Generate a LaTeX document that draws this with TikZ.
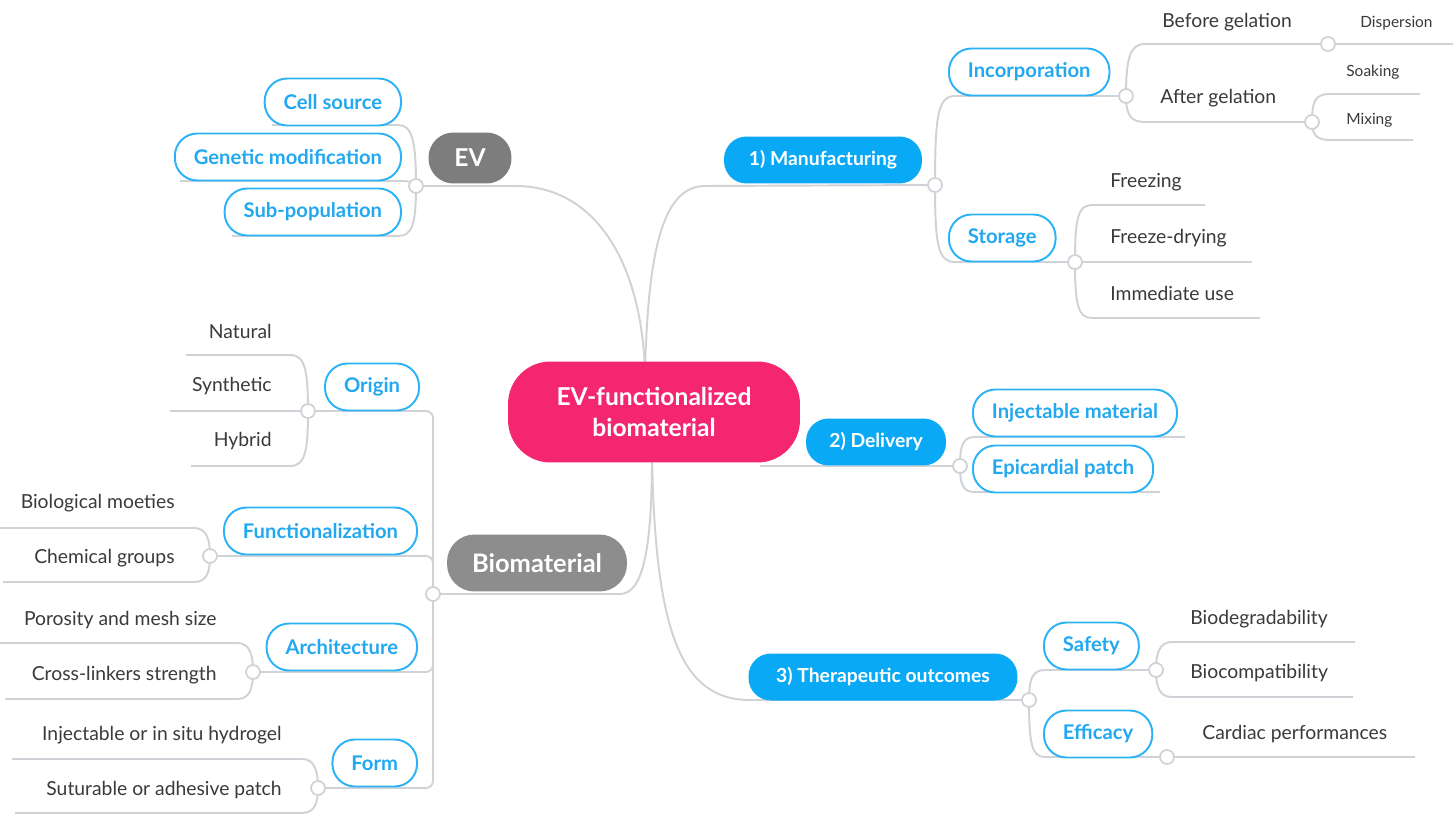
\documentclass[tikz,border=0pt]{standalone}
\usepackage{fontspec}
\setmainfont{Lato}
\usetikzlibrary{backgrounds}
\definecolor{linegray}{HTML}{CFD3D7}
\definecolor{bluefill}{HTML}{0AA9F6}
\definecolor{blueline}{HTML}{2BB2F7}
\definecolor{bluetext}{HTML}{22A8F0}
\definecolor{rootpink}{HTML}{F3266F}
\definecolor{evgray}{HTML}{7D7D7D}
\definecolor{biogray}{HTML}{8D8D8D}
\definecolor{leaftext}{HTML}{3A3A3A}
\tikzset{
  conn/.style={draw=linegray, line width=1.1pt},
  dot/.style={circle, draw=linegray, line width=1pt, fill=white, minimum size=0.28cm, inner sep=0pt},
  leaf/.style={font=\fontsize{11}{13}\selectfont, text=leaftext, inner sep=0pt},
  small/.style={font=\fontsize{8.8}{10}\selectfont, text=leaftext, inner sep=0pt},
  child/.style={draw=blueline, line width=1.1pt, fill=white, text=bluetext, font=\fontsize{11.5}{13}\selectfont\bfseries,
    rounded corners=0.45cm, minimum height=0.94cm, inner xsep=0.38cm},
  mainb/.style={fill=bluefill, text=white, font=\fontsize{11}{13}\selectfont\bfseries,
    rounded corners=0.45cm, minimum height=0.94cm, inner xsep=0.45cm},
  graynode/.style={text=white, font=\fontsize{14}{16}\selectfont\bfseries, rounded corners=0.5cm},
  rootnode/.style={fill=rootpink, text=white, font=\fontsize{14}{18}\selectfont\bfseries, align=center,
    rounded corners=0.85cm, minimum width=5.84cm, minimum height=2.02cm}
}
\begin{document}
\begin{tikzpicture}[x=0.02cm,y=-0.02cm]
\useasboundingbox (0,0) rectangle (1453,814);

% ---- main nodes
\node[rootnode] (root) at (654,412) {EV-functionalized\\biomaterial};
\node[graynode, fill=evgray, minimum width=1.66cm, minimum height=1.02cm] (ev) at (470,158) {EV};
\node[graynode, fill=biogray, minimum width=3.6cm, minimum height=1.14cm, rounded corners=0.55cm,
      font=\fontsize{14.5}{16}\selectfont\bfseries] (bio) at (537,563) {Biomaterial};
\node[mainb, minimum width=3.96cm] (manu) at (823,160) {1) Manufacturing};
\node[mainb, minimum width=2.8cm] (deliv) at (876,442) {2) Delivery};
\node[mainb, minimum width=5.38cm] (thera) at (883,677) {3) Therapeutic outcomes};

% ---- outlined children
\node[child, anchor=east] (cellsrc) at (402,102) {Cell source};
\node[child, anchor=east] (genmod) at (402,157) {Genetic modification};
\node[child, anchor=east] (subpop) at (402,212) {Sub-population};
\node[child, anchor=west] (incorp) at (948,72) {Incorporation};
\node[child, anchor=west] (storage) at (948,238) {Storage};
\node[child, anchor=west] (injmat) at (972,413) {Injectable material};
\node[child, anchor=west] (epipatch) at (972,469) {Epicardial patch};
\node[child, anchor=east] (origin) at (420,387) {Origin};
\node[child, anchor=east] (func) at (418,531) {Functionalization};
\node[child, anchor=east] (arch) at (418,647) {Architecture};
\node[child, anchor=east] (form) at (418,763) {Form};
\node[child, anchor=west] (safety) at (1043,646) {Safety};
\node[child, anchor=west] (efficacy) at (1043,734) {Efficacy};

% ---- leaf texts
\node[leaf, anchor=west] (befgel) at (1162,22) {Before gelation};
\node[leaf, anchor=west] (aftgel) at (1160,98) {After gelation};
\node[small, anchor=west] (disp) at (1360,23) {Dispersion};
\node[small, anchor=west] (soak) at (1346,72) {Soaking};
\node[small, anchor=west] (mix) at (1346,120) {Mixing};
\node[leaf, anchor=west] (freez) at (1110,182) {Freezing};
\node[leaf, anchor=west] (fdry) at (1110,238) {Freeze-drying};
\node[leaf, anchor=west] (immed) at (1110,293) {Immediate use};
\node[leaf, anchor=east] (natural) at (272,331) {Natural};
\node[leaf, anchor=east] (synth) at (272,386) {Synthetic};
\node[leaf, anchor=east] (hybrid) at (272,441) {Hybrid};
\node[leaf, anchor=east] (biomo) at (175,503) {Biological moeties};
\node[leaf, anchor=east] (chemg) at (175,558) {Chemical groups};
\node[leaf, anchor=east] (poro) at (217,620) {Porosity and mesh size};
\node[leaf, anchor=east] (cross) at (217,675) {Cross-linkers strength};
\node[leaf, anchor=east] (injhyd) at (282,735) {Injectable or in situ hydrogel};
\node[leaf, anchor=east] (sutur) at (282,790) {Suturable or adhesive patch};
\node[leaf, anchor=west] (biodeg) at (1190,619) {Biodegradability};
\node[leaf, anchor=west] (biocomp) at (1190,673) {Biocompatibility};
\node[leaf, anchor=west] (cardiac) at (1202,734) {Cardiac performances};

% ---- junction dots
\node[dot] (cEV) at (416,186) {};
\node[dot] (cM) at (935,185) {};
\node[dot] (cI) at (1126,96) {};
\node[dot] (cBG) at (1328,44) {};
\node[dot] (cAG) at (1312,122) {};
\node[dot] (cS) at (1075,262) {};
\node[dot] (cD) at (960,466) {};
\node[dot] (cT) at (1029,700) {};
\node[dot] (cSa) at (1156,670) {};
\node[dot] (cE) at (1167,757) {};
\node[dot] (cB) at (433,594) {};
\node[dot] (cO) at (308,411) {};
\node[dot] (cF) at (210,556) {};
\node[dot] (cA) at (253,672) {};
\node[dot] (cFo) at (318,788) {};

% ---- free ends
\coordinate (rtop) at (645,372);
\coordinate (rbot) at (652,455);
\coordinate (rdel) at (760,466);
\coordinate (eCell) at (272,125);
\coordinate (eGen) at (180,181);
\coordinate (eSub) at (232,236);
\coordinate (eDisp) at (1453,44);
\coordinate (eSoak) at (1420,94);
\coordinate (eMix) at (1413,140);
\coordinate (eFrz) at (1205,205);
\coordinate (eFdry) at (1252,262);
\coordinate (eImm) at (1260,318);
\coordinate (eInj) at (1185,437);
\coordinate (eEpi) at (1160,492);
\coordinate (eBdeg) at (1355,642);
\coordinate (eBcomp) at (1353,697);
\coordinate (eCard) at (1415,757);
\coordinate (eNat) at (186,355);
\coordinate (eSyn) at (170,411);
\coordinate (eHyb) at (191,466);
\coordinate (eBio) at (0,528);
\coordinate (eChem) at (3,582);
\coordinate (ePor) at (0,643);
\coordinate (eCro) at (5,699);
\coordinate (eIhy) at (12,759);
\coordinate (eSut) at (15,813);

\begin{scope}[on background layer]
\fill[white] (0,0) rectangle (1453,814);
% trunk
\draw[conn] (cEV.center) -- (515,186) .. controls (600,186) and (642,270) .. (rtop);
\draw[conn] (rtop) .. controls (648,260) and (660,186) .. (705,186) -- (cM.center);
\draw[conn] (cB.center) -- (620,594) .. controls (645,594) and (652,540) .. (rbot);
\draw[conn] (rbot) .. controls (655,630) and (680,700) .. (750,700) -- (cT.center);
\draw[conn] (rdel) -- (cD.center);
% EV
\draw[conn] (cEV.center) .. controls (416,140) and (412,125) .. (398,125) -- (eCell);
\draw[conn] (cEV.center) .. controls (410,181) .. (398,181) -- (eGen);
\draw[conn] (cEV.center) .. controls (416,225) and (412,236) .. (398,236) -- (eSub);
% Manufacturing
\draw[conn] (cM.center) .. controls (935,115) and (938,96) .. (955,96) -- (cI.center);
\draw[conn] (cM.center) .. controls (935,245) and (938,262) .. (955,262) -- (cS.center);
\draw[conn] (cI.center) .. controls (1126,58) and (1130,44) .. (1145,44) -- (cBG.center) -- (eDisp);
\draw[conn] (cI.center) .. controls (1126,114) and (1130,122) .. (1145,122) -- (cAG.center);
\draw[conn] (cAG.center) .. controls (1312,100) and (1316,94) .. (1330,94) -- (eSoak);
\draw[conn] (cAG.center) .. controls (1312,134) and (1316,140) .. (1330,140) -- (eMix);
\draw[conn] (cS.center) .. controls (1075,218) and (1078,205) .. (1092,205) -- (eFrz);
\draw[conn] (cS.center) -- (eFdry);
\draw[conn] (cS.center) .. controls (1075,305) and (1078,318) .. (1092,318) -- (eImm);
% Delivery
\draw[conn] (cD.center) .. controls (960,445) and (963,437) .. (975,437) -- (eInj);
\draw[conn] (cD.center) .. controls (960,485) and (963,492) .. (975,492) -- (eEpi);
% Therapeutic
\draw[conn] (cT.center) .. controls (1029,680) and (1032,670) .. (1045,670) -- (cSa.center);
\draw[conn] (cT.center) .. controls (1029,745) and (1032,757) .. (1045,757) -- (cE.center);
\draw[conn] (cSa.center) .. controls (1156,652) and (1160,642) .. (1172,642) -- (eBdeg);
\draw[conn] (cSa.center) .. controls (1156,688) and (1160,697) .. (1172,697) -- (eBcomp);
\draw[conn] (cE.center) -- (eCard);
% Biomaterial
\draw[conn, rounded corners=4pt] (cB.center) -- (433,411) -- (cO.center);
\draw[conn, rounded corners=4pt] (cB.center) -- (433,556) -- (cF.center);
\draw[conn, rounded corners=4pt] (cB.center) -- (433,672) -- (cA.center);
\draw[conn, rounded corners=4pt] (cB.center) -- (433,788) -- (cFo.center);
\draw[conn] (cO.center) .. controls (308,370) and (305,355) .. (290,355) -- (eNat);
\draw[conn] (cO.center) -- (eSyn);
\draw[conn] (cO.center) .. controls (308,452) and (305,466) .. (290,466) -- (eHyb);
\draw[conn] (cF.center) .. controls (210,540) and (207,528) .. (194,528) -- (eBio);
\draw[conn] (cF.center) .. controls (210,572) and (207,582) .. (194,582) -- (eChem);
\draw[conn] (cA.center) .. controls (253,655) and (250,643) .. (237,643) -- (ePor);
\draw[conn] (cA.center) .. controls (253,688) and (250,699) .. (237,699) -- (eCro);
\draw[conn] (cFo.center) .. controls (318,772) and (315,759) .. (302,759) -- (eIhy);
\draw[conn] (cFo.center) .. controls (318,802) and (315,813) .. (302,813) -- (eSut);
\end{scope}
\end{tikzpicture}
\end{document}
